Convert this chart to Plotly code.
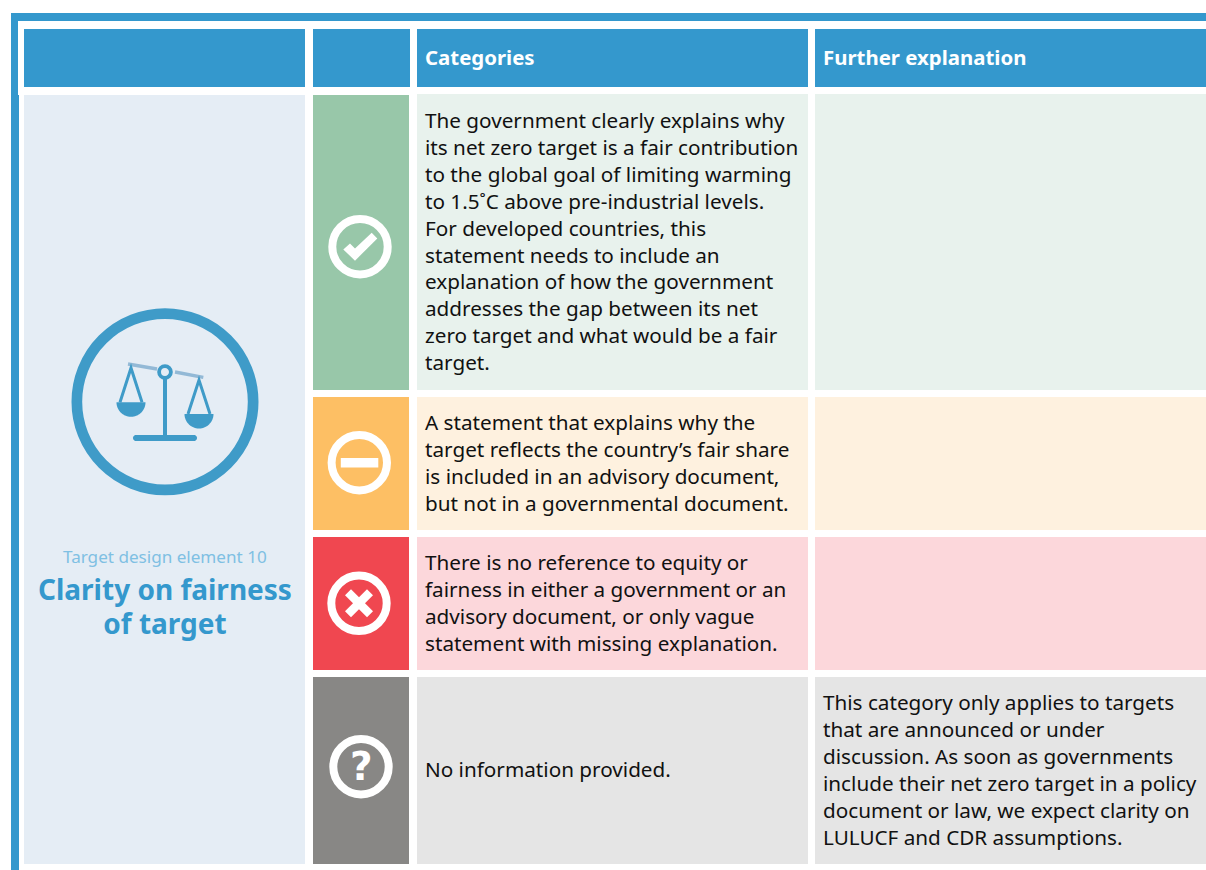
import numpy as np
import plotly.graph_objects as go

# ---- content ----
HEADERS = ["Categories", "Further explanation"]
ELEMENT_LABEL = "Target design element 10"
ELEMENT_TITLE = ["Clarity on fairness", "of target"]
CATEGORY_TEXT = [
    ["The government clearly explains why", "its net zero target is a fair contribution",
     "to the global goal of limiting warming", "to 1.5˚C above pre-industrial levels.",
     "For developed countries, this", "statement needs to include an",
     "explanation of how the government", "addresses the gap between its net",
     "zero target and what would be a fair", "target."],
    ["A statement that explains why the", "target reflects the country’s fair share",
     "is included in an advisory document,", "but not in a governmental document."],
    ["There is no reference to equity or", "fairness in either a government or an",
     "advisory document, or only vague", "statement with missing explanation."],
    ["No information provided."],
]
FURTHER_TEXT = [[], [], [],
    ["This category only applies to targets", "that are announced or under",
     "discussion. As soon as governments", "include their net zero target in a policy",
     "document or law, we expect clarity on", "LULUCF and CDR assumptions."]]

# ---- layout constants (pixels) ----
W, H = 1206, 870
BLUE = "#3498CD"
ICON_BLUE = "#3F9BC8"
ROWS = [(95, 390), (397, 530), (537, 670), (677, 864)]
STRONG = ["#98C7A9", "#FDBF64", "#F04750", "#888785"]
PALE = ["#E8F2ED", "#FEF1DF", "#FCD7DB", "#E5E5E5"]
ICON_C = [(360, 246.7), (359.3, 462.7), (359, 603.3), (361, 766.7)]
TEXT_FONT = "Noto Sans"
TEXT_SIZE = 20.7
LINE_H = 26.91

shapes, ann = [], []

def rect(x0, y0, x1, y1, color):
    shapes.append(dict(type="rect", xref="x", yref="y", x0=x0, y0=y0, x1=x1, y1=y1,
                       fillcolor=color, line_width=0, layer="below"))

def poly(pts, color):
    d = "M" + " L".join(f"{x:.2f},{y:.2f}" for x, y in pts) + " Z"
    shapes.append(dict(type="path", xref="x", yref="y", path=d, fillcolor=color, line_width=0))

def ring(cx, cy, r_out, width, color):
    r = r_out - width / 2
    shapes.append(dict(type="circle", xref="x", yref="y", x0=cx - r, x1=cx + r, y0=cy - r, y1=cy + r,
                       fillcolor="rgba(0,0,0,0)", line=dict(color=color, width=width)))

def seg(x0, y0, x1, y1, color, width):
    shapes.append(dict(type="line", xref="x", yref="y", x0=x0, y0=y0, x1=x1, y1=y1,
                       line=dict(color=color, width=width)))

def text(x, y, s, size, color, font=TEXT_FONT, bold=False, anchor="left"):
    ann.append(dict(x=x, y=y, xref="x", yref="y", text=f"<b>{s}</b>" if bold else s, showarrow=False,
                    xanchor=anchor, yanchor="middle", align=anchor,
                    font=dict(family=font, size=size, color=color), borderpad=0))

# frame
rect(11, 13, W, 21, BLUE)
rect(11, 13, 18, 95, BLUE)
rect(11, 95, 19, H, BLUE)

# header
for x0, x1 in [(24, 305), (313, 410), (417, 808), (815, W)]:
    rect(x0, 29, x1, 87, BLUE)
text(424, 56.5, HEADERS[0], 20.4, "white", bold=True)
text(822, 56.5, HEADERS[1], 20.4, "white", bold=True)

# left panel
rect(24, 95, 305, 864, "#E5EDF5")
text(164.5, 556, ELEMENT_LABEL, 17.1, "#7FC0E3", anchor="center")
# one two-line title: base size sets the 34px line pitch, the span sets the glyph size
title_html = "<br>".join(f'<span style="font-size:28px"><b>{s}</b></span>' for s in ELEMENT_TITLE)
text(164.5, 606, title_html, 26.15, BLUE, anchor="center")

# rows
for i, (y0, y1) in enumerate(ROWS):
    rect(313, y0, 409, y1, STRONG[i])
    rect(417, y0 - (1 if i == 0 else 0), 808, y1, PALE[i])
    rect(815, y0 - (1 if i == 0 else 0), W, y1, PALE[i])

def block(x, y_first, lines):
    yc = y_first + (len(lines) - 1) * LINE_H / 2
    text(x, yc, "<br>".join(lines), TEXT_SIZE, "#111111")

block(424, 120, CATEGORY_TEXT[0])
block(424, 422, CATEGORY_TEXT[1])
block(424, 562, CATEGORY_TEXT[2])
block(424, 769, CATEGORY_TEXT[3])
block(822, 702, FURTHER_TEXT[3])

# status icons
for (cx, cy) in ICON_C:
    ring(cx, cy, 31.7, 8, "white")
cx, cy = ICON_C[0]
poly([(cx + a, cy + b) for a, b in [(-16.7, 2.7), (-10, -3.3), (-5, 1.7), (11.7, -14), (17.3, -8.3), (-5, 14)]], "white")
cx, cy = ICON_C[1]
poly([(cx - 18.5, cy - 4.7), (cx + 19, cy - 4.7), (cx + 19, cy + 4.7), (cx - 18.5, cy + 4.7)], "white")
cx, cy = ICON_C[2]
poly([(cx + a, cy + b) for a, b in [(-14, -8), (-8, -14), (0, -6), (8, -14), (14, -8), (6, 0), (14, 8), (8, 14),
                                    (0, 6), (-8, 14), (-14, 8), (-6, 0)]], "white")
cx, cy = ICON_C[3]
text(cx, cy, "?", 39, "white", font="DejaVu Sans", bold=True, anchor="center")

# scales icon
def half_disk(cx, cy, r):
    t = np.linspace(0, np.pi, 40)
    return [(cx + r * np.cos(a), cy + r * np.sin(a)) for a in t]

ring(165, 401.7, 93.5, 10.7, ICON_BLUE)
seg(128, 364, 157, 369, "#93B9D6", 3.4)
seg(175, 372, 203.3, 377.3, "#93B9D6", 3.4)
ring(165, 372, 7.8, 3.8, ICON_BLUE)
seg(165, 379, 165, 436, ICON_BLUE, 4)
capsule = [(133 + 3 - 3 * np.sin(a), 438 + 3 * np.cos(a)) for a in np.linspace(0, np.pi, 12)] + \
          [(197 - 3 + 3 * np.sin(a), 438 - 3 * np.cos(a)) for a in np.linspace(0, np.pi, 12)]
poly(capsule, ICON_BLUE)
for px, py, apex in [(131, 402.3, 368), (199, 414, 380)]:
    poly(half_disk(px, py, 14.5), ICON_BLUE)
    d = f"M{px-11},{py} L{px},{apex} L{px+11},{py}"
    shapes.append(dict(type="path", xref="x", yref="y", path=d, line=dict(color=ICON_BLUE, width=3),
                       fillcolor="rgba(0,0,0,0)"))

fig = go.Figure()
fig.update_layout(
    width=W, height=H, margin=dict(l=0, r=0, t=0, b=0), paper_bgcolor="white", plot_bgcolor="white",
    xaxis=dict(range=[0, W], visible=False, fixedrange=True),
    yaxis=dict(range=[H, 0], visible=False, fixedrange=True),
    shapes=shapes, annotations=ann, showlegend=False,
)
fig.write_html("out.html", config={"displayModeBar": False},
               post_script="document.body.style.margin='0';document.body.style.overflow='hidden';")
